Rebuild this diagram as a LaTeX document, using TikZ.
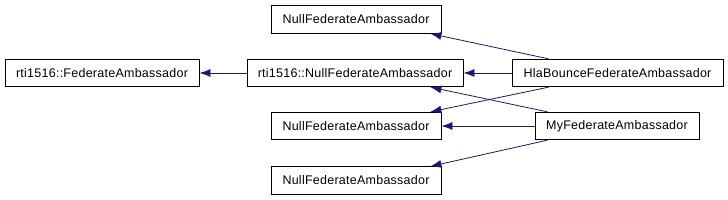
\documentclass[tikz,border=0pt]{standalone}
\usepackage{fontspec}
\setmainfont{Liberation Sans}[LetterSpace=2]
\usetikzlibrary{arrows.meta}
\definecolor{edgeblue}{RGB}{25,25,112}
\begin{document}
\begin{tikzpicture}[x=1pt,y=-1pt,
  cls/.style={draw=black,line width=0.8pt,fill=white,inner sep=0pt,minimum height=27.5pt,font=\fontsize{12.5}{14}\selectfont},
  inh/.style={draw=edgeblue,line width=0.8pt,{Latex[length=11pt,width=8pt]}-}]
\useasboundingbox (0,0) rectangle (728,200);
\node[cls,minimum width=194pt] (fed) at (102,73) {rti1516::FederateAmbassador};
\node[cls,minimum width=216pt] (rtinull) at (355,73) {rti1516::NullFederateAmbassador};
\node[cls,minimum width=170pt] (null1) at (356,19.5) {NullFederateAmbassador};
\node[cls,minimum width=170pt] (null2) at (356,126) {NullFederateAmbassador};
\node[cls,minimum width=170pt] (null3) at (356,180.5) {NullFederateAmbassador};
\node[cls,minimum width=211pt] (hla) at (617.5,73) {HlaBounceFederateAmbassador};
\node[cls,minimum width=164pt] (my) at (617,126) {MyFederateAmbassador};
\draw[inh] (fed.east) -- (rtinull.west);
\draw[inh] ([xshift=-11pt]null1.south east) -- ([xshift=37pt]hla.north west);
\draw[inh] (rtinull.east) -- (hla.west);
\draw[inh] ([xshift=-11pt]null2.north east) -- ([xshift=37pt]hla.south west);
\draw[inh] ([xshift=-33pt]rtinull.south east) -- ([xshift=13pt]my.north west);
\draw[inh] (null2.east) -- (my.west);
\draw[inh] ([xshift=-11pt]null3.north east) -- ([xshift=13pt]my.south west);
\end{tikzpicture}
\end{document}
